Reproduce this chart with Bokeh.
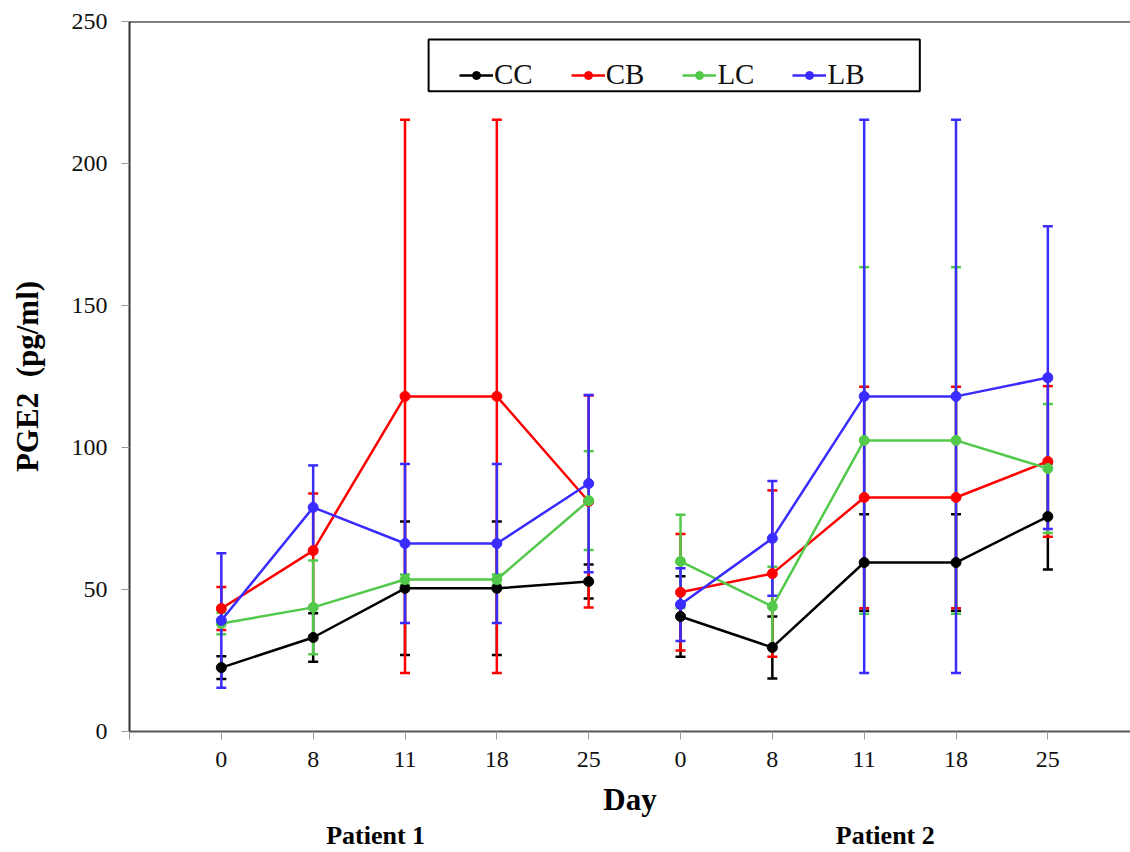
from bokeh.plotting import figure
from bokeh.models import (Range1d, FixedTicker, Whisker, ColumnDataSource, Legend,
                          LegendItem, Span, BoxAnnotation, TeeHead, LinearAxis)
from bokeh.embed import file_html
from bokeh.resources import INLINE

# Sampling days and the two patients shown side by side
days = ["0", "8", "11", "18", "25"]
patients = ["Patient 1", "Patient 2"]
series = ["CC", "CB", "LC", "LB"]

# PGE2 means (pg/ml) per series, patient 1 then patient 2
cc_p1 = [22.5, 33.1, 50.4, 50.4, 52.8]
cc_p2 = [40.5, 29.6, 59.5, 59.5, 75.7]
cb_p1 = [43.3, 63.7, 118.0, 118.0, 81.0]
cb_p2 = [49.0, 55.6, 82.4, 82.4, 95.1]
lc_p1 = [38.0, 43.7, 53.5, 53.5, 81.3]
lc_p2 = [59.9, 44.0, 102.5, 102.5, 92.6]
lb_p1 = [39.1, 78.9, 66.2, 66.2, 87.3]
lb_p2 = [44.7, 68.0, 118.0, 118.0, 124.6]

# Symmetric error (± pg/ml)
cc_p1_err = [4.0, 8.5, 23.5, 23.5, 6.0]
cc_p2_err = [14.2, 10.9, 17.0, 17.0, 18.7]
cb_p1_err = [7.6, 20.1, 97.4, 97.4, 37.3]
cb_p2_err = [20.5, 29.3, 39.0, 39.0, 26.5]
lc_p1_err = [3.8, 16.5, 1.8, 1.8, 17.4]
lc_p2_err = [16.4, 14.0, 61.0, 61.0, 22.7]
lb_p1_err = [23.7, 14.8, 28.0, 28.0, 31.2]
lb_p2_err = [12.8, 20.2, 97.4, 97.4, 53.3]

means = {
    "CC": [cc_p1, cc_p2], "CB": [cb_p1, cb_p2],
    "LC": [lc_p1, lc_p2], "LB": [lb_p1, lb_p2],
}
errors = {
    "CC": [cc_p1_err, cc_p2_err], "CB": [cb_p1_err, cb_p2_err],
    "LC": [lc_p1_err, lc_p2_err], "LB": [lb_p1_err, lb_p2_err],
}
colors = {"CC": "#000000", "CB": "#ff0000", "LC": "#52c94a", "LB": "#3a2bff"}

SERIF = "Liberation Serif"
n_days = len(days)

p = figure(width=1130, height=852, output_backend="svg", toolbar_location=None,
           x_range=Range1d(0, 10.9), y_range=Range1d(0, 250),
           min_border_left=129, min_border_right=0, min_border_top=21,
           min_border_bottom=121)
p.outline_line_color = None
p.xgrid.visible = False
p.ygrid.visible = False
p.background_fill_color = "white"
p.border_fill_color = "white"

# category positions: patient blocks laid end to end
positions = [[1 + n_days * i + j for j in range(n_days)] for i in range(len(patients))]

# x axis with day labels and the "Day" title
p.xaxis.ticker = FixedTicker(ticks=list(range(0, 2 * n_days + 1)))
overrides = {0: ""}
for i in range(len(patients)):
    for j, d in enumerate(days):
        overrides[positions[i][j]] = d
p.xaxis.major_label_overrides = overrides
p.xaxis.minor_tick_line_color = None
p.xaxis.major_tick_in = 0
p.xaxis.major_tick_out = 8
p.xaxis.major_tick_line_color = "#999999"
p.xaxis.axis_line_color = "#555555"
p.xaxis.axis_line_width = 2
p.xaxis.major_label_text_font = SERIF
p.xaxis.major_label_text_font_size = "24px"
p.xaxis.major_label_text_color = "#111111"
p.xaxis.major_label_standoff = 12
p.xaxis.axis_label = "Day"
p.xaxis.axis_label_text_font = SERIF
p.xaxis.axis_label_text_font_style = "bold"
p.xaxis.axis_label_text_font_size = "31px"
p.xaxis.axis_label_text_color = "#000000"
p.xaxis.axis_label_standoff = 12

# patient captions under each block of days
patient_centers = [2.68, 8.23]
paxis = LinearAxis(ticker=FixedTicker(ticks=patient_centers),
                   major_label_overrides={c: n for c, n in zip(patient_centers, patients)},
                   axis_line_color=None, major_tick_line_color=None,
                   minor_tick_line_color=None, major_tick_out=0, major_tick_in=0,
                   major_label_standoff=1, major_label_text_font=SERIF,
                   major_label_text_font_style="bold",
                   major_label_text_font_size="26px",
                   major_label_text_color="#000000")
p.add_layout(paxis, "below")

# y axis
p.yaxis.ticker = FixedTicker(ticks=[0, 50, 100, 150, 200, 250])
p.yaxis.minor_tick_line_color = None
p.yaxis.major_tick_in = 0
p.yaxis.major_tick_out = 8
p.yaxis.major_tick_line_color = "#999999"
p.yaxis.axis_line_color = "#333333"
p.yaxis.axis_line_width = 2
p.yaxis.major_label_text_font = SERIF
p.yaxis.major_label_text_font_size = "24px"
p.yaxis.major_label_text_color = "#111111"
p.yaxis.major_label_standoff = 14
p.yaxis.axis_label = "PGE2\u00a0\u00a0(pg/ml)"
p.yaxis.axis_label_text_font = SERIF
p.yaxis.axis_label_text_font_style = "bold"
p.yaxis.axis_label_text_font_size = "31px"
p.yaxis.axis_label_text_color = "#000000"
p.yaxis.axis_label_standoff = 24

# top border of the plot area
p.add_layout(Span(location=250, dimension="width", line_color="black", line_width=2))

legend_items = []
for s in series:
    c = colors[s]
    first = None
    for i in range(len(patients)):
        xs = positions[i]
        ys = means[s][i]
        es = errors[s][i]
        src = ColumnDataSource(dict(
            x=xs, y=ys,
            upper=[y + e for y, e in zip(ys, es)],
            lower=[y - e for y, e in zip(ys, es)],
        ))
        p.add_layout(Whisker(
            base="x", upper="upper", lower="lower", source=src, dimension="height",
            line_color=c, line_width=2.5,
            upper_head=TeeHead(size=10, line_color=c, line_width=2.5),
            lower_head=TeeHead(size=10, line_color=c, line_width=2.5),
        ))
        lr = p.line("x", "y", source=src, line_color=c, line_width=2.5)
        sr = p.scatter("x", "y", source=src, size=10, fill_color=c, line_color=c)
        if first is None:
            first = [lr, sr]
    legend_items.append(LegendItem(label=s, renderers=first))

legend = Legend(items=legend_items, orientation="horizontal", location=(330, 640),
                label_text_font=SERIF, label_text_font_size="29px",
                label_text_color="#111111",
                glyph_width=34, glyph_height=20, label_standoff=1, spacing=38,
                padding=9, margin=0, border_line_color=None,
                background_fill_alpha=0)
p.add_layout(legend, "center")
p.add_layout(BoxAnnotation(left=3.257, right=8.606, bottom=225.4, top=243.7,
                           fill_alpha=0, line_color="black", line_alpha=1,
                           line_width=2))

open("out.html", "w").write(file_html(p, INLINE))
